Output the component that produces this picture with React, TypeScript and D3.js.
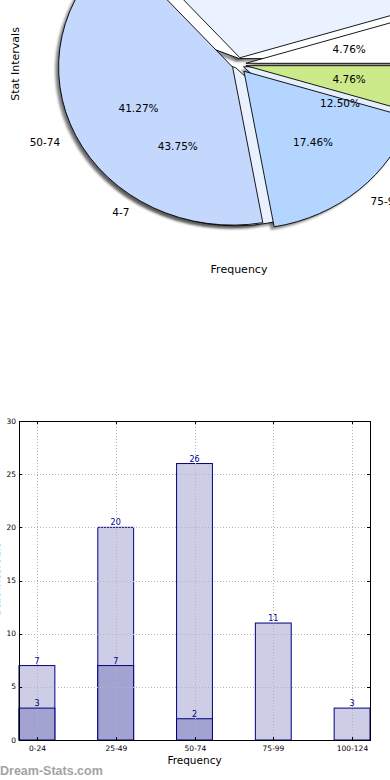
import React, { useEffect, useRef } from 'react'
import * as d3 from 'd3'

// pie (two overlaid series, the second one drawn underneath)
const pieACats = ['0-24', '25-49', '50-74', '75-99', '100-124']
const pieAValues = [3, 20, 26, 11, 3]
const pieAColors = ['#ffffff', '#eaf2ff', '#c4d7fd', '#b3d5ff', '#cdea8a']
const pieAExplode = [8, 7, 6, 9, 8]

const pieBCats = ['0-3', '4-7', '8-11']
const pieBValues = [7, 7, 2]
const pieBColors = ['#ffffff', '#e9f1fe', '#e4eefd']
const pieBExplode = [6, 4, 6]

// bars
const barCats = ['0-24', '25-49', '50-74', '75-99', '100-124']
const barTotals = [7, 20, 26, 11, 3]
const barSubCats = ['0-24', '25-49', '50-74']
const barSubValues = [3, 7, 2]
const yTicks = [0, 5, 10, 15, 20, 25, 30]

const FONT = '"DejaVu Sans", sans-serif'

const W = 390
const H = 780

export default function App() {
    const svgRef = useRef<SVGSVGElement>(null)

    useEffect(() => {
        if (!svgRef.current) return
        const svg = d3.select(svgRef.current)
        svg.selectAll('*').remove()

        const defs = svg.append('defs')
        defs.append('filter').attr('id', 'shblur')
            .attr('x', '-10%').attr('y', '-10%').attr('width', '120%').attr('height', '120%')
            .append('feGaussianBlur').attr('stdDeviation', 0.9)

        // ---------- Pie ----------
        const cx = 238, cy = 64.5, rx = 174, ry = 158
        const pieGen = d3.pie<number>().sort(null)
            .startAngle(Math.PI / 2)
            .endAngle(Math.PI / 2 - 2 * Math.PI)
        const arc = d3.arc<d3.PieArcDatum<number>>().innerRadius(0).outerRadius(rx)

        const build = (values: number[], cats: string[], colors: string[], explode: number[]) => {
            const total = d3.sum(values)
            return pieGen(values).map((a, i) => {
                const mid = (a.startAngle + a.endAngle) / 2
                const ux = Math.sin(mid), uy = -Math.cos(mid)
                return {
                    a, ux, uy,
                    ox: cx + explode[i] * ux,
                    oy: cy + explode[i] * uy,
                    color: colors[i],
                    cat: cats[i],
                    pct: d3.format('.2f')(values[i] / total * 100) + '%'
                }
            })
        }
        const sliceA = build(pieAValues, pieACats, pieAColors, pieAExplode)
        const sliceB = build(pieBValues, pieBCats, pieBColors, pieBExplode)

        const pieG = svg.append('g')

        // shadows first (below every wedge)
        const shadowG = pieG.append('g').attr('filter', 'url(#shblur)')
        ;[...sliceB, ...sliceA].forEach(s => {
            shadowG.append('path')
                .attr('d', arc(s.a) as string)
                .attr('transform', `translate(${s.ox - 0.02 * rx},${s.oy + 0.02 * ry}) scale(1,${ry / rx})`)
                .attr('fill', '#333')
                .attr('fill-opacity', 0.55)
        })

        const drawWedges = (slices: typeof sliceA) => {
            slices.forEach(s => {
                pieG.append('path')
                    .attr('d', arc(s.a) as string)
                    .attr('transform', `translate(${s.ox},${s.oy}) scale(1,${ry / rx})`)
                    .attr('fill', s.color)
                    .attr('stroke', '#000')
                    .attr('stroke-width', 0.9)
                    .attr('vector-effect', 'non-scaling-stroke')
            })
        }
        drawWedges(sliceB)
        drawWedges(sliceA)

        // the chart is cropped: labels that fall outside the picture are skipped
        const inView = (px: number, py: number) => px > 0 && px < W && py > 0 && py < H
        const drawTexts = (slices: typeof sliceA) => {
            slices.forEach(s => {
                const px = s.ox + 0.6 * rx * s.ux, py = s.oy + 0.6 * ry * s.uy
                if (inView(px, py)) {
                    pieG.append('text')
                        .attr('x', px).attr('y', py)
                        .attr('dy', '0.35em')
                        .attr('text-anchor', 'middle')
                        .style('font-family', FONT).style('font-size', '10.5px')
                        .attr('fill', '#000')
                        .text(s.pct)
                }
                const lx = s.ox + 1.1 * rx * s.ux, ly = s.oy + 1.1 * ry * s.uy
                if (inView(lx, ly)) {
                    pieG.append('text')
                        .attr('x', lx).attr('y', ly)
                        .attr('dy', '0.35em')
                        .attr('text-anchor', s.ux > 0 ? 'start' : 'end')
                        .style('font-family', FONT).style('font-size', '10.5px')
                        .attr('fill', '#000')
                        .text(s.cat)
                }
            })
        }
        drawTexts(sliceB)
        drawTexts(sliceA)

        svg.append('text')
            .attr('transform', 'translate(19,64) rotate(-90)')
            .attr('text-anchor', 'middle')
            .style('font-family', FONT).style('font-size', '11px')
            .text('Stat Intervals')
        svg.append('text')
            .attr('x', 239).attr('y', 273)
            .attr('text-anchor', 'middle')
            .style('font-family', FONT).style('font-size', '11px')
            .text('Frequency')

        // ---------- Bars ----------
        const left = 19, right = 370, top = 421, bottom = 740
        const x = d3.scaleBand<string>().domain(barCats).range([left, right])
            .paddingInner(0.545).paddingOuter(0)
        const y = d3.scaleLinear().domain([0, 30]).range([bottom, top])
        const barG = svg.append('g')

        barG.selectAll('rect.total')
            .data(barCats)
            .enter().append('rect')
            .attr('class', 'total')
            .attr('x', d => x(d)!)
            .attr('width', x.bandwidth())
            .attr('y', (d, i) => y(barTotals[i]))
            .attr('height', (d, i) => bottom - y(barTotals[i]))
            .attr('fill', '#cdcde6')
            .attr('stroke', '#000080')
            .attr('stroke-width', 1)

        barG.selectAll('rect.sub')
            .data(barSubCats)
            .enter().append('rect')
            .attr('class', 'sub')
            .attr('x', d => x(d)!)
            .attr('width', x.bandwidth())
            .attr('y', (d, i) => y(barSubValues[i]))
            .attr('height', (d, i) => bottom - y(barSubValues[i]))
            .attr('fill', '#a3a3d1')
            .attr('stroke', '#000080')
            .attr('stroke-width', 1)

        // grid on top of bars
        const grid = barG.append('g')
            .attr('stroke', '#b4b4b4').attr('stroke-width', 1)
            .attr('stroke-dasharray', '1,2')
        yTicks.filter(t => t > 0 && t < 30).forEach(t => {
            grid.append('line').attr('x1', left).attr('x2', right)
                .attr('y1', Math.round(y(t)) + 0.5).attr('y2', Math.round(y(t)) + 0.5)
        })
        barCats.forEach(c => {
            const cxp = Math.round(x(c)! + x.bandwidth() / 2) + 0.5
            grid.append('line').attr('x1', cxp).attr('x2', cxp).attr('y1', top).attr('y2', bottom)
        })

        // value labels
        const labelStyle = (sel: d3.Selection<SVGTextElement, string, SVGGElement, unknown>) =>
            sel.attr('text-anchor', 'middle')
                .style('font-family', FONT).style('font-size', '8px')
                .attr('fill', '#00008b')
        labelStyle(barG.selectAll<SVGTextElement, string>('text.tv')
            .data(barCats).enter().append('text').attr('class', 'tv')
            .attr('x', d => x(d)! + x.bandwidth() / 2)
            .attr('y', (d, i) => y(barTotals[i]) - 2)
            .text((d, i) => String(barTotals[i])))
        labelStyle(barG.selectAll<SVGTextElement, string>('text.sv')
            .data(barSubCats).enter().append('text').attr('class', 'sv')
            .attr('x', d => x(d)! + x.bandwidth() / 2)
            .attr('y', (d, i) => y(barSubValues[i]) - 2)
            .text((d, i) => String(barSubValues[i])))

        // frame
        barG.append('rect')
            .attr('x', left + 0.5).attr('y', top + 0.5)
            .attr('width', right - left).attr('height', bottom - top)
            .attr('fill', 'none').attr('stroke', '#000').attr('stroke-width', 1)

        // ticks (inward, both sides)
        const tickG = barG.append('g').attr('stroke', '#000').attr('stroke-width', 1)
        yTicks.forEach(t => {
            const yy = Math.round(y(t)) + 0.5
            tickG.append('line').attr('x1', left).attr('x2', left + 3).attr('y1', yy).attr('y2', yy)
            tickG.append('line').attr('x1', right - 3).attr('x2', right).attr('y1', yy).attr('y2', yy)
            barG.append('text')
                .attr('x', left - 3).attr('y', y(t)).attr('dy', '0.35em')
                .attr('text-anchor', 'end')
                .style('font-family', FONT).style('font-size', '7.5px')
                .text(String(t))
        })
        barCats.forEach(c => {
            const xx = Math.round(x(c)! + x.bandwidth() / 2) + 0.5
            tickG.append('line').attr('x1', xx).attr('x2', xx).attr('y1', bottom - 3).attr('y2', bottom)
            tickG.append('line').attr('x1', xx).attr('x2', xx).attr('y1', top).attr('y2', top + 3)
            barG.append('text')
                .attr('x', xx).attr('y', bottom + 11)
                .attr('text-anchor', 'middle')
                .style('font-family', FONT).style('font-size', '7.5px')
                .text(c)
        })

        svg.append('text')
            .attr('x', (left + right) / 2).attr('y', 764)
            .attr('text-anchor', 'middle')
            .style('font-family', FONT).style('font-size', '10.5px')
            .text('Frequency')
        svg.append('text')
            .attr('transform', 'translate(0,579) rotate(-90)')
            .attr('text-anchor', 'middle')
            .style('font-family', FONT).style('font-size', '11px')
            .text('Stat Intervals')

        svg.append('text')
            .attr('x', 0).attr('y', 775)
            .style('font-family', '"Liberation Sans", Arial, sans-serif')
            .style('font-size', '12.5px').style('font-weight', 'bold')
            .attr('fill', '#a3a3a3')
            .text('Dream-Stats.com')
    }, [])

    return (
        <svg ref={svgRef} width={W} height={H}
            style={{ position: 'absolute', left: 0, top: 0, background: '#fff' }} />
    )
}
